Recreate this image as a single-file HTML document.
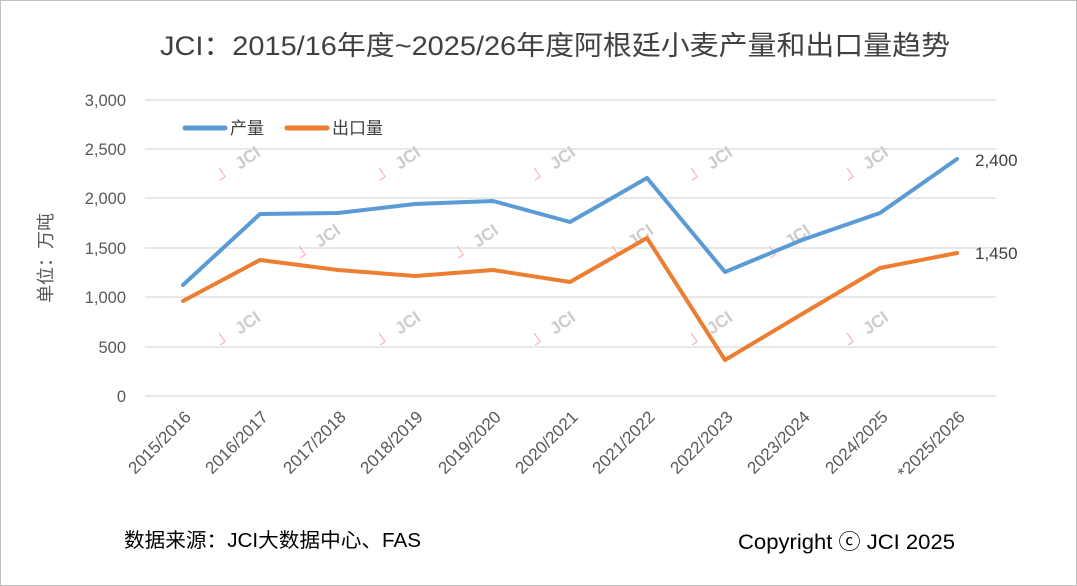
<!DOCTYPE html>
<html><head><meta charset="utf-8"><style>
body{margin:0;background:#fff}
svg{display:block}
text{font-family:"Liberation Sans","Noto Sans CJK SC",sans-serif}
</style></head><body>
<svg width="1077" height="586" viewBox="0 0 1077 586">
<rect x="0.5" y="0.5" width="1076" height="585" fill="#fff" stroke="#bfbfbf"/>
<text x="555" y="55" font-size="27" fill="#404040" text-anchor="middle" textLength="790" lengthAdjust="spacingAndGlyphs">JCI：2015/16年度~2025/26年度阿根廷小麦产量和出口量趋势</text>
<g stroke="#d9d9d9" stroke-width="1.3">
<line x1="145" x2="996" y1="100" y2="100"/><line x1="145" x2="996" y1="149" y2="149"/><line x1="145" x2="996" y1="198" y2="198"/><line x1="145" x2="996" y1="248" y2="248"/><line x1="145" x2="996" y1="297" y2="297"/><line x1="145" x2="996" y1="347" y2="347"/><line x1="145" x2="996" y1="396" y2="396"/>
</g>
<g font-size="16.5" fill="#595959" text-anchor="end">
<text x="126" y="106">3,000</text><text x="126" y="155">2,500</text><text x="126" y="204">2,000</text><text x="126" y="254">1,500</text><text x="126" y="303">1,000</text><text x="126" y="353">500</text><text x="126" y="402">0</text>
</g>
<text transform="translate(52,258) rotate(-90)" font-size="18" fill="#595959" text-anchor="middle">单位：万吨</text>
<g font-size="17" fill="#595959" text-anchor="end">
<text transform="translate(192,418) rotate(-45)">2015/2016</text>
<text transform="translate(269,418) rotate(-45)">2016/2017</text>
<text transform="translate(347,418) rotate(-45)">2017/2018</text>
<text transform="translate(424,418) rotate(-45)">2018/2019</text>
<text transform="translate(502,418) rotate(-45)">2019/2020</text>
<text transform="translate(579,418) rotate(-45)">2020/2021</text>
<text transform="translate(656,418) rotate(-45)">2021/2022</text>
<text transform="translate(734,418) rotate(-45)">2022/2023</text>
<text transform="translate(811,418) rotate(-45)">2023/2024</text>
<text transform="translate(889,418) rotate(-45)">2024/2025</text>
<text transform="translate(966,418) rotate(-45)">*2025/2026</text>
</g>
<g font-size="17" fill="#cccccc" font-weight="bold">
<g transform="translate(240,170) rotate(-35)"><text x="0" y="0">JCI</text><text x="-22" y="2" fill="#f5b8b8">┘</text></g>
<g transform="translate(400,170) rotate(-35)"><text x="0" y="0">JCI</text><text x="-22" y="2" fill="#f5b8b8">┘</text></g>
<g transform="translate(555,170) rotate(-35)"><text x="0" y="0">JCI</text><text x="-22" y="2" fill="#f5b8b8">┘</text></g>
<g transform="translate(712,170) rotate(-35)"><text x="0" y="0">JCI</text><text x="-22" y="2" fill="#f5b8b8">┘</text></g>
<g transform="translate(868,170) rotate(-35)"><text x="0" y="0">JCI</text><text x="-22" y="2" fill="#f5b8b8">┘</text></g>
<g transform="translate(320,248) rotate(-35)"><text x="0" y="0">JCI</text><text x="-22" y="2" fill="#f5b8b8">┘</text></g>
<g transform="translate(478,248) rotate(-35)"><text x="0" y="0">JCI</text><text x="-22" y="2" fill="#f5b8b8">┘</text></g>
<g transform="translate(633,248) rotate(-35)"><text x="0" y="0">JCI</text><text x="-22" y="2" fill="#f5b8b8">┘</text></g>
<g transform="translate(790,248) rotate(-35)"><text x="0" y="0">JCI</text><text x="-22" y="2" fill="#f5b8b8">┘</text></g>
<g transform="translate(240,335) rotate(-35)"><text x="0" y="0">JCI</text><text x="-22" y="2" fill="#f5b8b8">┘</text></g>
<g transform="translate(400,335) rotate(-35)"><text x="0" y="0">JCI</text><text x="-22" y="2" fill="#f5b8b8">┘</text></g>
<g transform="translate(555,335) rotate(-35)"><text x="0" y="0">JCI</text><text x="-22" y="2" fill="#f5b8b8">┘</text></g>
<g transform="translate(712,335) rotate(-35)"><text x="0" y="0">JCI</text><text x="-22" y="2" fill="#f5b8b8">┘</text></g>
<g transform="translate(868,335) rotate(-35)"><text x="0" y="0">JCI</text><text x="-22" y="2" fill="#f5b8b8">┘</text></g>
</g>
<polyline fill="none" stroke="#5b9bd5" stroke-width="4" stroke-linejoin="round" stroke-linecap="round" points="183,285 260,214 338,213 415,204 493,201 570,222 647,178 725,272 802,240 880,213 957,159"/>
<polyline fill="none" stroke="#ed7d31" stroke-width="4" stroke-linejoin="round" stroke-linecap="round" points="183,301 260,260 338,270 415,276 493,270 570,282 647,238 725,360 802,314 880,268 957,253"/>
<text x="975" y="166" font-size="17" fill="#404040">2,400</text>
<text x="975" y="259" font-size="17" fill="#404040">1,450</text>
<line x1="185" x2="225" y1="128" y2="128" stroke="#5b9bd5" stroke-width="5" stroke-linecap="round"/>
<text x="230" y="134" font-size="17" fill="#404040">产量</text>
<line x1="287" x2="327" y1="128" y2="128" stroke="#ed7d31" stroke-width="5" stroke-linecap="round"/>
<text x="332" y="134" font-size="17" fill="#404040">出口量</text>
<text x="124" y="547" font-size="20" fill="#000" textLength="297" lengthAdjust="spacingAndGlyphs">数据来源：JCI大数据中心、FAS</text>
<text x="738" y="549" font-size="21" fill="#000" textLength="217" lengthAdjust="spacingAndGlyphs">Copyright ⓒ JCI 2025</text>
</svg>
</body></html>
